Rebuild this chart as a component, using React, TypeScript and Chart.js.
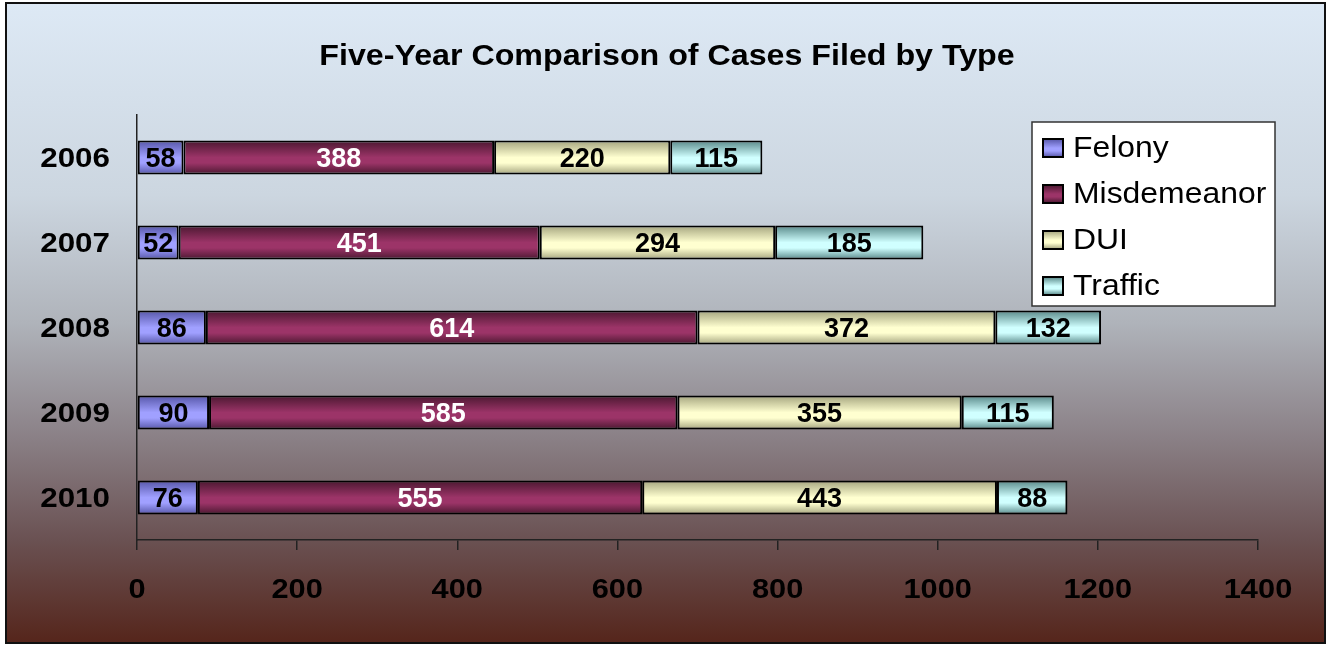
import React, { useEffect, useRef } from "react";
import { Chart, registerables } from "chart.js";

Chart.register(...registerables);

const chartTitle = "Five-Year Comparison of Cases Filed by Type";
const years = ["2006", "2007", "2008", "2009", "2010"];
const seriesNames = ["Felony", "Misdemeanor", "DUI", "Traffic"];
const felony = [58, 52, 86, 90, 76];
const misdemeanor = [388, 451, 614, 585, 555];
const dui = [220, 294, 372, 355, 443];
const traffic = [115, 185, 132, 115, 88];
const xTicks = [0, 200, 400, 600, 800, 1000, 1200, 1400];

const palette = [
  { mid: "#a0a0ff", dark: "#5656a8", text: "#000000" },
  { mid: "#9c3468", dark: "#4a1830", text: "#ffffff" },
  { mid: "#ffffd0", dark: "#a4a47e", text: "#000000" },
  { mid: "#d0ffff", dark: "#588888", text: "#000000" },
];

const FONT = "'Liberation Sans', Arial, sans-serif";

function drawText(
  ctx: CanvasRenderingContext2D,
  text: string,
  x: number,
  y: number,
  font: string,
  color: string,
  align: CanvasTextAlign,
  sx: number
) {
  ctx.save();
  ctx.font = font;
  ctx.fillStyle = color;
  ctx.textBaseline = "middle";
  ctx.textAlign = align;
  ctx.translate(x, y);
  ctx.scale(sx, 1);
  ctx.fillText(text, 0, 0);
  ctx.restore();
}

function cylinder(ctx: CanvasRenderingContext2D, i: number, top: number, bottom: number) {
  const p = palette[i];
  const g = ctx.createLinearGradient(0, top, 0, bottom);
  g.addColorStop(0, p.dark);
  g.addColorStop(0.5, p.mid);
  g.addColorStop(0.66, p.mid);
  g.addColorStop(1, p.dark);
  return g;
}

function barFill(i: number) {
  return (c: any) => {
    const chart = c.chart;
    const ys = chart && chart.scales && chart.scales.y;
    if (!ys || c.type !== "data") return palette[i].mid;
    const cy = ys.getPixelForValue(c.dataIndex);
    const band = Math.abs(ys.getPixelForValue(1) - ys.getPixelForValue(0));
    const half = (band * 0.4) / 2;
    if (!isFinite(cy) || !isFinite(half) || half <= 0) return palette[i].mid;
    return cylinder(chart.ctx, i, cy - half, cy + half);
  };
}

const backgroundPlugin = {
  id: "bgPlugin",
  beforeDraw(chart: any) {
    const ctx = chart.ctx as CanvasRenderingContext2D;
    const W = chart.width;
    const H = chart.height;
    ctx.save();
    ctx.fillStyle = "#ffffff";
    ctx.fillRect(0, 0, W, H);
    const g = ctx.createLinearGradient(0, 3, 0, H - 2);
    g.addColorStop(0, "#dde9f5");
    g.addColorStop(0.3, "#ccd6e0");
    g.addColorStop(0.5, "#afb3ba");
    g.addColorStop(0.68, "#8a8086");
    g.addColorStop(0.84, "#6a5152");
    g.addColorStop(1, "#55251b");
    ctx.fillStyle = g;
    ctx.fillRect(6, 3, W - 9, H - 5);
    ctx.strokeStyle = "#111111";
    ctx.lineWidth = 2;
    ctx.strokeRect(6, 3, W - 9, H - 5);
    ctx.restore();
  },
};

const textPlugin = {
  id: "textPlugin",
  afterDatasetsDraw(chart: any) {
    const ctx = chart.ctx as CanvasRenderingContext2D;
    chart.data.datasets.forEach((ds: any, i: number) => {
      const meta = chart.getDatasetMeta(i);
      meta.data.forEach((el: any, j: number) => {
        const cx = (el.x + el.base) / 2;
        drawText(ctx, String(ds.data[j]), cx, el.y + 2, `bold 27px ${FONT}`, palette[i].text, "center", 1.0);
      });
    });
  },
  afterDraw(chart: any) {
    const ctx = chart.ctx as CanvasRenderingContext2D;
    drawText(ctx, chartTitle, 667, 57, `bold 29px ${FONT}`, "#000", "center", 1.11);
    const xs = chart.scales.x;
    xTicks.forEach((v) => {
      drawText(ctx, String(v), xs.getPixelForValue(v), 590, `bold 28px ${FONT}`, "#000", "center", 1.1);
    });
    const ys = chart.scales.y;
    years.forEach((y, i) => {
      drawText(ctx, y, 110, ys.getPixelForValue(i) + 2, `bold 28px ${FONT}`, "#000", "right", 1.12);
    });
    ctx.save();
    ctx.fillStyle = "#ffffff";
    ctx.fillRect(1032, 122, 243, 184);
    ctx.strokeStyle = "#333333";
    ctx.lineWidth = 1.5;
    ctx.strokeRect(1032, 122, 243, 184);
    ctx.restore();
    seriesNames.forEach((name, i) => {
      const cy = 148 + i * 46;
      ctx.save();
      ctx.fillStyle = cylinder(ctx, i, cy - 9, cy + 9);
      ctx.fillRect(1043, cy - 9, 20, 18);
      ctx.strokeStyle = "#000";
      ctx.lineWidth = 2;
      ctx.strokeRect(1043, cy - 9, 20, 18);
      ctx.restore();
      drawText(ctx, name, 1073, cy + 1, `29px ${FONT}`, "#000", "left", 1.1);
    });
  },
};

export default function App() {
  const ref = useRef<HTMLCanvasElement | null>(null);
  useEffect(() => {
    if (!ref.current) return;
    const seriesValues = [felony, misdemeanor, dui, traffic];
    const chart = new Chart(ref.current, {
      type: "bar",
      data: {
        labels: years,
        datasets: seriesNames.map((name, i) => ({
          label: name,
          data: seriesValues[i],
          backgroundColor: barFill(i),
          borderColor: "#000000",
          borderWidth: 2,
          borderSkipped: false,
          barPercentage: 0.4,
          categoryPercentage: 1,
        })),
      },
      options: {
        indexAxis: "y",
        responsive: false,
        animation: false,
        events: [],
        layout: { padding: { top: 115, right: 70, left: 0, bottom: 0 } },
        plugins: {
          legend: { display: false },
          title: { display: false },
          tooltip: { enabled: false },
        },
        scales: {
          x: {
            type: "linear",
            stacked: true,
            min: 0,
            max: 1400,
            ticks: { stepSize: 200, display: false },
            grid: {
              drawOnChartArea: false,
              drawTicks: true,
              tickLength: 10,
              color: "#222222",
              lineWidth: 1.5,
            },
            border: { display: true, color: "#222222", width: 1.5 },
            afterFit: (s: any) => {
              s.height = 105;
            },
          },
          y: {
            type: "category",
            stacked: true,
            ticks: { display: false },
            grid: { drawOnChartArea: false, drawTicks: false },
            border: { display: true, color: "#222222", width: 1.5 },
            afterFit: (s: any) => {
              s.width = 137;
            },
          },
        },
      } as any,
      plugins: [backgroundPlugin, textPlugin],
    });
    chart.update();
    return () => chart.destroy();
  }, []);
  return (
    <div style={{ position: "absolute", left: 0, top: 0, width: 1328, height: 645 }}>
      <canvas ref={ref} width={1328} height={645} style={{ width: 1328, height: 645, display: "block" }} />
    </div>
  );
}
